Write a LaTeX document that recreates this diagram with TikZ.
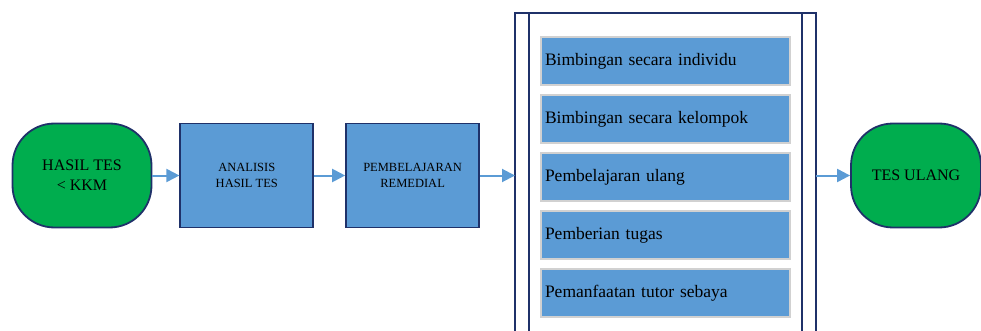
\documentclass[tikz,border=0pt]{standalone}
\usepackage{fontspec}
\setmainfont{Liberation Serif}
\usetikzlibrary{arrows.meta,positioning}
\definecolor{hijau}{HTML}{00AD4E}
\definecolor{biru}{HTML}{5B9BD5}
\definecolor{navy}{HTML}{1F3169}
\tikzset{
    %Define standard arrow tip
    >={Triangle[length=13pt,width=13pt]},
    %Define style for terminal boxes
    ujung/.style={
           rectangle,
           rounded corners=42pt,
           fill=hijau,
           draw=navy, line width=1.8pt,
           minimum width=139pt,
           minimum height=104pt,
           align=center,
           font=\fontsize{16}{20}\selectfont},
    %Define style for process boxes
    proses/.style={
           rectangle,
           fill=biru,
           draw=navy, line width=1.8pt,
           minimum width=133pt,
           minimum height=104pt,
           align=center,
           font=\fontsize{12.5}{15.5}\selectfont},
    %Define style for list items
    pilihan/.style={
           rectangle,
           fill=biru,
           draw=black!18, line width=2pt,
           minimum width=249pt,
           minimum height=48pt,
           text width=241pt,
           align=left,
           font=\fontsize{17.5}{20}\selectfont},
    % Define arrow style
    panah/.style={
           ->,
           draw=biru, fill=biru,
           line width=2pt}
}
\begin{document}
\begin{tikzpicture}[x=1pt,y=-1pt]
         \useasboundingbox (0,0) rectangle (981,331);
         \clip (0,0) rectangle (981,331);
         %nodes
          \node[ujung] (hasil) at (82,175.5) {HASIL TES\\ \textless{} KKM};
          \node[proses, right=27pt of hasil] (analisis) {ANALISIS\\HASIL TES};
          \node[proses, right=31pt of analisis] (remedial) {PEMBELAJARAN\\REMEDIAL};
          \node[ujung, minimum width=130pt] (ulang) at (916,175.5) {TES ULANG};
          %frame
          \draw[navy, line width=1.8pt] (515,360) -- (515,13) -- (816,13) -- (816,360);
          \draw[navy, line width=1.5pt] (529,13) -- (529,360) (802,13) -- (802,360);
          \coordinate (masuk) at (515,175.5);
          \coordinate (keluar) at (816,175.5);
          %list
          \node[pilihan] (p1) at (665.5,61) {Bimbingan secara individu};
          \node[pilihan, below=8pt of p1] (p2) {Bimbingan secara kelompok};
          \node[pilihan, below=8pt of p2] (p3) {Pembelajaran ulang};
          \node[pilihan, below=8pt of p3] (p4) {Pemberian tugas};
          \node[pilihan, below=8pt of p4] (p5) {Pemanfaatan tutor sebaya};
          %arrows
          \draw[panah] (hasil) -- (analisis);
          \draw[panah] (analisis) -- (remedial);
          \draw[panah] (remedial) -- (masuk);
          \draw[panah] (keluar) -- (ulang);
\end{tikzpicture}
\end{document}
